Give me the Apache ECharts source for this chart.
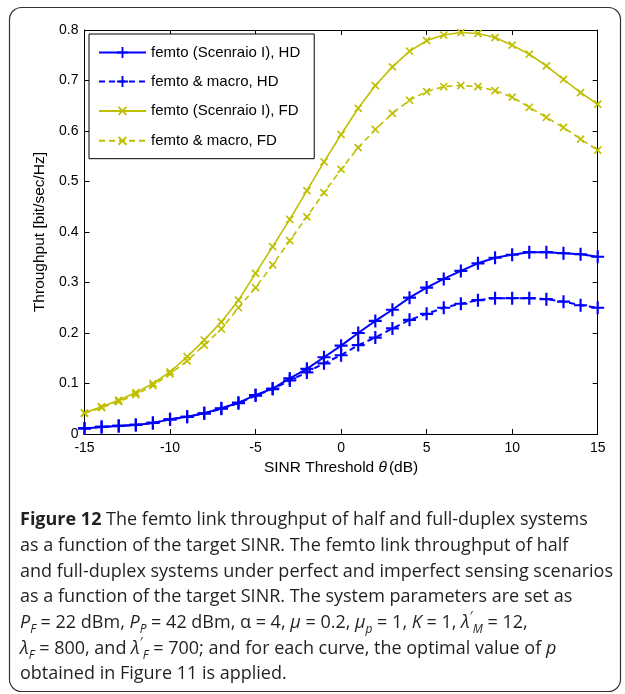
<!DOCTYPE html>
<html>
<head>
<meta charset="utf-8">
<script src="https://cdn.jsdelivr.net/npm/echarts@6/dist/echarts.min.js"></script>
<style>
  html, body { margin: 0; padding: 0; background: #fff; }
  #chart { width: 625px; height: 694px; }
</style>
</head>
<body>
<div id="chart"></div>
<script>
const sinr = [-15, -14, -13, -12, -11, -10, -9, -8, -7, -6, -5, -4, -3, -2, -1, 0,
  1, 2, 3, 4, 5, 6, 7, 8, 9, 10, 11, 12, 13, 14, 15];

const hdScenario = [0.011, 0.014, 0.016, 0.018, 0.022, 0.029, 0.034, 0.041, 0.051, 0.062, 0.077,
  0.090, 0.110, 0.129, 0.152, 0.175, 0.200, 0.224, 0.246, 0.270, 0.290, 0.307, 0.323, 0.338,
  0.349, 0.355, 0.360, 0.360, 0.358, 0.356, 0.351];
const hdMacro = [0.011, 0.014, 0.016, 0.018, 0.022, 0.029, 0.034, 0.041, 0.050, 0.061, 0.076,
  0.089, 0.106, 0.122, 0.140, 0.156, 0.176, 0.191, 0.209, 0.226, 0.238, 0.250, 0.258, 0.265,
  0.269, 0.269, 0.269, 0.267, 0.262, 0.255, 0.250];
const fdScenario = [0.042, 0.054, 0.067, 0.082, 0.100, 0.123, 0.153, 0.186, 0.222, 0.265, 0.318,
  0.371, 0.425, 0.482, 0.539, 0.593, 0.645, 0.690, 0.727, 0.758, 0.779, 0.790, 0.795, 0.793,
  0.785, 0.770, 0.752, 0.729, 0.702, 0.676, 0.653];
const fdMacro = [0.041, 0.052, 0.064, 0.078, 0.096, 0.119, 0.145, 0.176, 0.208, 0.250, 0.290,
  0.335, 0.383, 0.430, 0.478, 0.524, 0.567, 0.603, 0.635, 0.661, 0.678, 0.688, 0.690, 0.688,
  0.680, 0.667, 0.647, 0.627, 0.607, 0.584, 0.562];

const seriesNames = ['femto (Scenraio I), HD', 'femto & macro, HD',
  'femto (Scenraio I), FD', 'femto & macro, FD'];

const captionLines = [
  '{b|Figure 12} The femto link throughput of half and full-duplex systems',
  'as a function of the target SINR. The femto link throughput of half',
  'and full-duplex systems under perfect and imperfect sensing scenarios',
  'as a function of the target SINR. The system parameters are set as',
  '{i|P}{sub|F} = 22 dBm, {i|P}{sub|P} = 42 dBm, α = 4, {i|μ} = 0.2, {i|μ}{sub|p} = 1, {i|K} = 1, {i|λ}{sup|′}{sub|M} = 12,',
  '{i|λ}{sub|F} = 800, and {i|λ}{sup|′}{sub|F} = 700; and for each curve, the optimal value of {i|p}',
  'obtained in Figure 11 is applied.'
];

const BLUE = '#0000FF';
const YELLOW = '#BFBF00';
const PLUS = 'path://M5,0h2v12h-2z M0,5h12v2h-12z';
const axisFont = 'Liberation Sans, Arial, sans-serif';

function makeSeries(name, values, color, dashed, cross) {
  return {
    name: name,
    type: 'line',
    data: sinr.map((x, i) => [x, values[i]]),
    symbol: PLUS,
    symbolSize: cross ? 10 : 13,
    symbolRotate: cross ? 45 : 0,
    showAllSymbol: true,
    clip: false,
    color: color,
    itemStyle: { color: color },
    lineStyle: {
      color: color,
      width: cross ? 1.6 : 2,
      type: dashed ? [6, 4] : 'solid'
    },
    emphasis: { disabled: true },
    animation: false
  };
}

const chart = echarts.init(document.getElementById('chart'));

const captionGraphics = captionLines.map((line, i) => ({
  type: 'text',
  left: 20,
  top: 507 + i * 25.7,
  style: {
    text: line,
    font: '18px "Open Sans", sans-serif',
    fill: '#231f20',
    lineHeight: 26,
    rich: {
      b: { fontWeight: 'bold', fontSize: 18, fontFamily: 'Open Sans', lineHeight: 26 },
      i: { fontStyle: 'italic', fontSize: 18, fontFamily: 'Open Sans', lineHeight: 26 },
      sub: { fontStyle: 'italic', fontSize: 12, fontFamily: 'Open Sans', lineHeight: 17, verticalAlign: 'bottom' },
      sup: { fontSize: 13, fontFamily: 'Open Sans', lineHeight: 16, verticalAlign: 'top' }
    }
  }
}));

const option = {
  backgroundColor: '#ffffff',
  animation: false,
  grid: { left: 84.5, right: 27.3, top: 30, bottom: 260, containLabel: false },
  legend: {
    orient: 'vertical',
    left: 89,
    top: 34,
    padding: [11, 14, 10, 9],
    itemGap: 14,
    itemWidth: 47,
    itemHeight: 14,
    backgroundColor: '#ffffff',
    borderColor: '#000000',
    borderWidth: 1,
    borderRadius: 0,
    textStyle: { fontFamily: axisFont, fontSize: 15, color: '#000', padding: [0, 0, 0, 0] },
    data: seriesNames
  },
  xAxis: [{
    type: 'value',
    min: -15,
    max: 15,
    interval: 5,
    name: '{n|SINR Threshold }{t|θ}{n|(dB)}',
    nameLocation: 'middle',
    nameGap: 24,
    nameTextStyle: {
      rich: {
        n: { fontFamily: axisFont, fontSize: 15.5, color: '#000' },
        t: { fontFamily: axisFont, fontSize: 15.5, color: '#000', fontStyle: 'italic', padding: [0, 2, 0, 0] }
      }
    },
    axisLine: { onZero: false, lineStyle: { color: '#000', width: 1 } },
    axisTick: { inside: true, length: 5, lineStyle: { color: '#000' } },
    axisLabel: { fontFamily: axisFont, fontSize: 14, color: '#000', margin: 7 },
    splitLine: { show: false }
  }, {
    type: 'value',
    position: 'top',
    min: -15,
    max: 15,
    interval: 5,
    axisLine: { onZero: false, lineStyle: { color: '#000', width: 1 } },
    axisTick: { inside: true, length: 5, lineStyle: { color: '#000' } },
    axisLabel: { show: false },
    splitLine: { show: false }
  }],
  yAxis: [{
    type: 'value',
    min: 0,
    max: 0.8,
    interval: 0.1,
    name: 'Throughput [bit/sec/Hz]',
    nameLocation: 'middle',
    nameGap: 34,
    nameTextStyle: { fontFamily: axisFont, fontSize: 15.5, color: '#000' },
    axisLine: { onZero: false, lineStyle: { color: '#000', width: 1 } },
    axisTick: { inside: true, length: 5, lineStyle: { color: '#000' } },
    axisLabel: {
      fontFamily: axisFont, fontSize: 14, color: '#000', margin: 6,
      formatter: v => (Math.abs(v) < 1e-9 ? '0' : v.toFixed(1))
    },
    splitLine: { show: false }
  }, {
    type: 'value',
    position: 'right',
    min: 0,
    max: 0.8,
    interval: 0.1,
    axisLine: { onZero: false, lineStyle: { color: '#000', width: 1 } },
    axisTick: { inside: true, length: 5, lineStyle: { color: '#000' } },
    axisLabel: { show: false },
    splitLine: { show: false }
  }],
  graphic: [{
    type: 'rect',
    left: 7,
    top: 5,
    shape: { width: 611, height: 684, r: 12 },
    style: { fill: 'none', stroke: '#333', lineWidth: 1.2 },
    z: -1
  }].concat(captionGraphics),
  series: [
    makeSeries(seriesNames[0], hdScenario, BLUE, false, false),
    makeSeries(seriesNames[1], hdMacro, BLUE, true, false),
    makeSeries(seriesNames[2], fdScenario, YELLOW, false, true),
    makeSeries(seriesNames[3], fdMacro, YELLOW, true, true)
  ]
};

chart.setOption(option);
</script>
</body>
</html>
